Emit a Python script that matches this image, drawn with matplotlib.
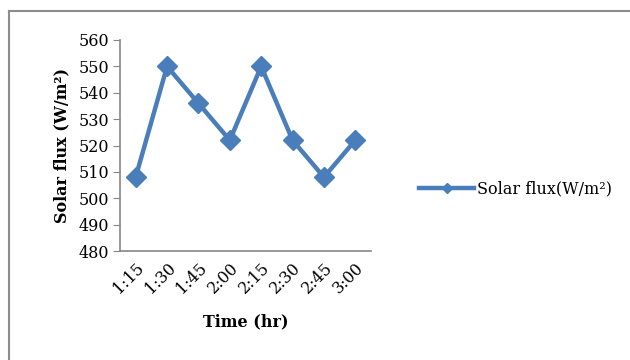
import matplotlib.pyplot as plt
from matplotlib.lines import Line2D

# data
times = ['1:15', '1:30', '1:45', '2:00', '2:15', '2:30', '2:45', '3:00']
flux = [508, 550, 536, 522, 550, 522, 508, 522]
yticks = [480, 490, 500, 510, 520, 530, 540, 550, 560]

plt.rcParams['font.family'] = ['DejaVu Serif']

fig = plt.figure(figsize=(6.3, 3.6), dpi=100)
ax = fig.add_axes([120 / 630, 1 - 251 / 360, 251 / 630, 211 / 360])

col = '#4a7ebb'
ax.plot(range(len(times)), flux, color=col, lw=3.2, marker='D', ms=10,
        label='Solar flux(W/m²)')

ax.set_xlim(-0.5, len(times) - 0.5)
ax.set_ylim(480, 560)
ax.set_yticks(yticks)
ax.set_xticks(range(len(times)))
ax.set_xticklabels(times, rotation=45, ha='right', va='top', rotation_mode='anchor')
ax.tick_params(axis='x', length=0, labelsize=11.5, pad=6)
ax.tick_params(axis='y', length=5, color='#868686', labelsize=11.5, pad=3)

for s in ['top', 'right']:
    ax.spines[s].set_visible(False)
for s in ['left', 'bottom']:
    ax.spines[s].set_color('#868686')
    ax.spines[s].set_linewidth(1.2)

ax.set_xlabel('Time (hr)', fontsize=11.5, fontweight='bold', labelpad=12)
ax.set_ylabel('Solar flux (W/m²)', fontsize=11.5, fontweight='bold', labelpad=6)

leg = fig.legend(loc='center left', bbox_to_anchor=(405 / 630, 1 - 189 / 360),
                 frameon=False, fontsize=11.5, handlelength=3.4, handletextpad=0.2,
                 markerscale=0.55)

# outer chart frame
fig.add_artist(Line2D([8.5 / 630, 8.5 / 630], [0, 1 - 11 / 360], color='#8c8c8c', lw=1.5))
fig.add_artist(Line2D([8.5 / 630, 1], [1 - 11 / 360, 1 - 11 / 360], color='#8c8c8c', lw=1.5))

fig.savefig('out.png', dpi=100)
